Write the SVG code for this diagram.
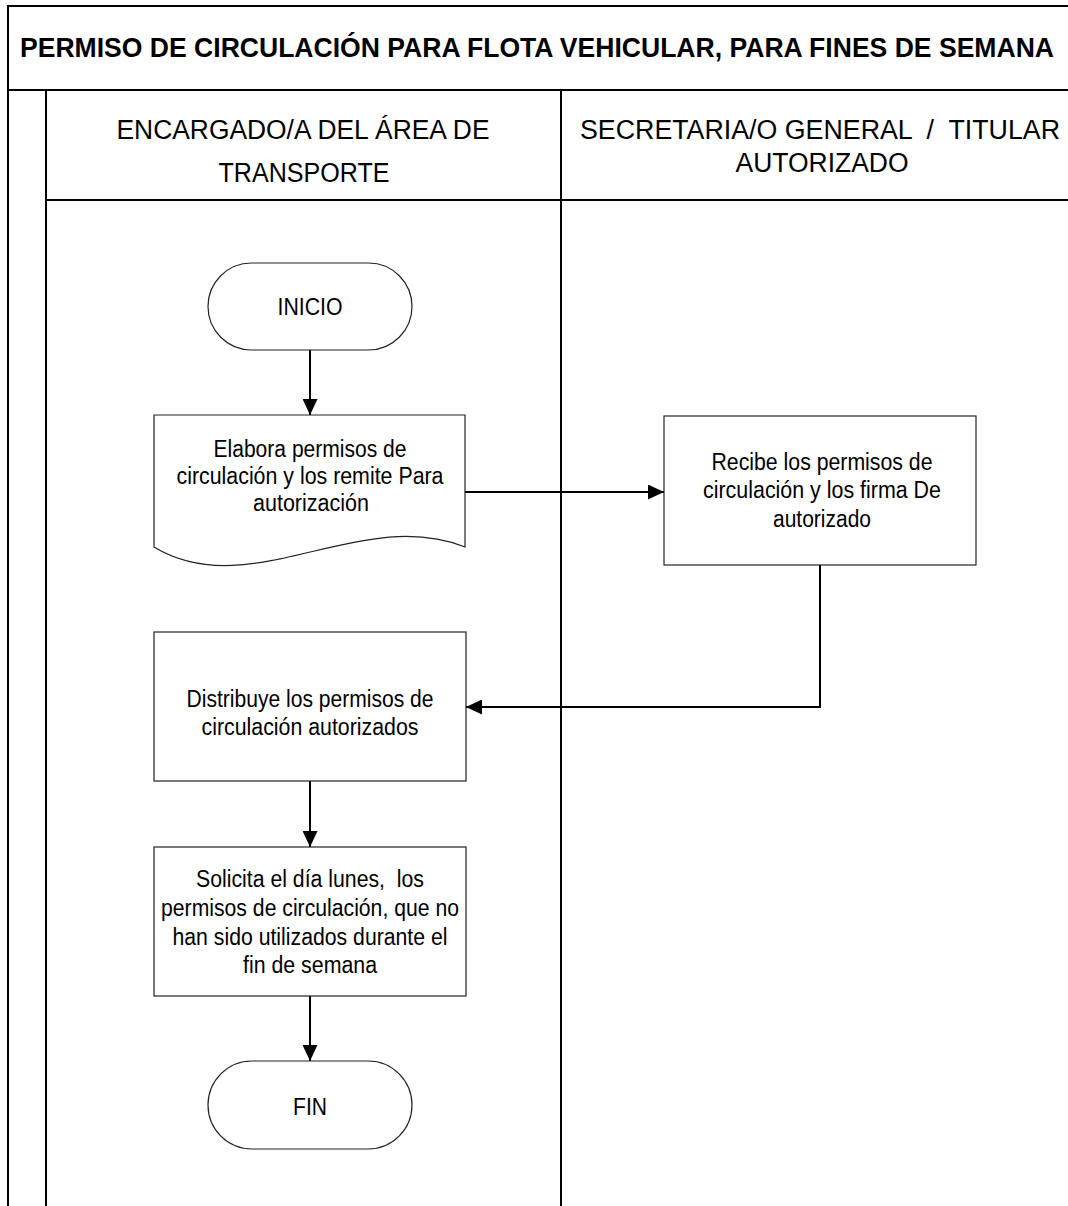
<svg xmlns="http://www.w3.org/2000/svg" width="1068" height="1206" viewBox="0 0 1068 1206">
  <style>
    .lane { stroke: #000; stroke-width: 2; fill: none; }
    .node { fill: #fff; stroke: #222; stroke-width: 1.2; }
    .conn { stroke: #000; stroke-width: 2; fill: none; }
    .title { font-family: "Liberation Sans", Arial, sans-serif; font-weight: bold; font-size: 27px; fill: #000; }
    .head { font-family: "Liberation Sans", Arial, sans-serif; font-size: 27px; fill: #000; text-anchor: middle; }
    .txt { font-family: "Liberation Sans", Arial, sans-serif; font-size: 23px; fill: #000; text-anchor: middle; }
  </style>
  <defs>
    <marker id="arrow" markerUnits="userSpaceOnUse" markerWidth="16" markerHeight="15" refX="16" refY="7.5" orient="auto">
      <path d="M0,0 L16,7.5 L0,15 Z" fill="#000"/>
    </marker>
  </defs>

  <rect width="1068" height="1206" fill="#fff"/>

  <!-- Swimlane frame -->
  <g id="frame">
    <path class="lane" d="M8,1206 V6 H1068"/>
    <path class="lane" d="M8,90 H1068"/>
    <path class="lane" d="M46,200 H1068"/>
    <path class="lane" d="M46,90 V1206"/>
    <path class="lane" d="M561,90 V1206"/>
    <text class="title" x="20" y="57" textLength="1034" lengthAdjust="spacingAndGlyphs">PERMISO DE CIRCULACIÓN PARA FLOTA VEHICULAR, PARA FINES DE SEMANA</text>
  </g>

  <g id="lane-transporte">
    <text class="head" x="303" y="139" textLength="373" lengthAdjust="spacingAndGlyphs">ENCARGADO/A DEL ÁREA DE</text>
    <text class="head" x="304" y="182" textLength="171" lengthAdjust="spacingAndGlyphs">TRANSPORTE</text>
  </g>
  <g id="lane-secretaria">
    <text class="head" x="820" y="139" textLength="480" lengthAdjust="spacingAndGlyphs" xml:space="preserve">SECRETARIA/O GENERAL  /  TITULAR</text>
    <text class="head" x="822" y="172" textLength="173" lengthAdjust="spacingAndGlyphs">AUTORIZADO</text>
  </g>

  <!-- Connectors -->
  <g id="connectors">
    <path class="conn" d="M310,350 V415" marker-end="url(#arrow)"/>
    <path class="conn" d="M465,492 H664" marker-end="url(#arrow)"/>
    <path class="conn" d="M820,565 V707 H466" marker-end="url(#arrow)"/>
    <path class="conn" d="M310,781 V847" marker-end="url(#arrow)"/>
    <path class="conn" d="M310,996 V1061" marker-end="url(#arrow)"/>
  </g>

  <g id="inicio">
    <rect class="node" x="208" y="263" width="204" height="87" rx="43.5" ry="43.5"/>
    <text class="txt" x="310" y="315" textLength="65" lengthAdjust="spacingAndGlyphs">INICIO</text>
  </g>

  <g id="elabora">
    <path class="node" d="M154,415 H465 V547 C360,505 250,605 154,547 Z"/>
    <text class="txt" x="310" y="457" textLength="193" lengthAdjust="spacingAndGlyphs">Elabora permisos de</text>
    <text class="txt" x="310" y="484" textLength="267" lengthAdjust="spacingAndGlyphs">circulación y los remite Para</text>
    <text class="txt" x="311" y="511" textLength="116" lengthAdjust="spacingAndGlyphs">autorización</text>
  </g>

  <g id="recibe">
    <rect class="node" x="664" y="416" width="312" height="149"/>
    <text class="txt" x="822" y="470" textLength="221" lengthAdjust="spacingAndGlyphs">Recibe los permisos de</text>
    <text class="txt" x="822" y="498" textLength="238" lengthAdjust="spacingAndGlyphs">circulación y los firma De</text>
    <text class="txt" x="822" y="527" textLength="98" lengthAdjust="spacingAndGlyphs">autorizado</text>
  </g>

  <g id="distribuye">
    <rect class="node" x="154" y="632" width="312" height="149"/>
    <text class="txt" x="310" y="707" textLength="247" lengthAdjust="spacingAndGlyphs">Distribuye los permisos de</text>
    <text class="txt" x="310" y="735" textLength="217" lengthAdjust="spacingAndGlyphs">circulación autorizados</text>
  </g>

  <g id="solicita">
    <rect class="node" x="154" y="847" width="312" height="149"/>
    <text class="txt" x="310" y="887" textLength="228" lengthAdjust="spacingAndGlyphs" xml:space="preserve">Solicita el día lunes,  los</text>
    <text class="txt" x="310" y="916" textLength="298" lengthAdjust="spacingAndGlyphs">permisos de circulación, que no</text>
    <text class="txt" x="310" y="945" textLength="275" lengthAdjust="spacingAndGlyphs">han sido utilizados durante el</text>
    <text class="txt" x="310" y="973" textLength="134" lengthAdjust="spacingAndGlyphs">fin de semana</text>
  </g>

  <g id="fin">
    <rect class="node" x="208" y="1061" width="204" height="88" rx="44" ry="44"/>
    <text class="txt" x="310" y="1115" textLength="34" lengthAdjust="spacingAndGlyphs">FIN</text>
  </g>
</svg>
